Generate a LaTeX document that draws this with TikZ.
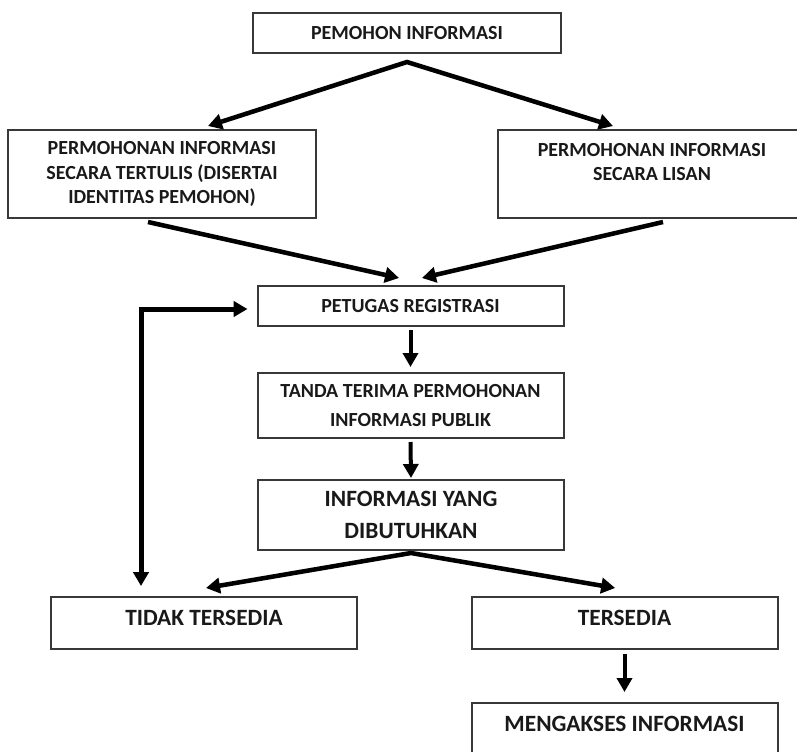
\documentclass[tikz,border=0pt]{standalone}
\usepackage{fontspec}
\setmainfont{Carlito}
\usepackage{tikz}
\usetikzlibrary{positioning,arrows.meta,calc}

\begin{document}
\begin{tikzpicture}[
  x=0.75pt, y=-0.75pt,
  font=\bfseries\fontsize{15}{18.2}\selectfont,
  box/.style={draw=black!78, line width=1.5pt, align=center, inner sep=0pt, outer sep=0pt, minimum width=229.5pt, text=black!90},
  bigtext/.style={font=\bfseries\fontsize{17.5}{24.5}\selectfont},
  flowtip/.tip={Triangle[length=10.5pt,width=11.5pt]},
  flow/.style={line width=3.4pt, line join=miter},
  down/.style={line width=3pt, -{Triangle[length=10.5pt,width=11.25pt]}}]
\useasboundingbox (0,0) rectangle (797,751);
% boxes
\node[box, minimum width=231pt, minimum height=30pt] (pemohon) at (407,33) {PEMOHON INFORMASI};
\node[box, minimum width=231pt, minimum height=66pt] (tertulis) at (162,174) {PERMOHONAN INFORMASI\\SECARA TERTULIS (DISERTAI\\IDENTITAS PEMOHON)};
\node[box, minimum width=231pt, minimum height=66pt] (lisan) at (652,174) {PERMOHONAN INFORMASI\\SECARA LISAN\\\mbox{}};
\node[box, minimum height=30pt] (petugas) at (410.5,306) {PETUGAS REGISTRASI};
\node[box, minimum height=48.75pt, font=\bfseries\fontsize{15}{21.2}\selectfont] (tanda) at (410.5,405.5) {TANDA TERIMA PERMOHONAN\\INFORMASI PUBLIK};
\node[box, bigtext, minimum height=52.5pt] (butuh) at (411,515) {INFORMASI YANG\\DIBUTUHKAN};
\node[box, bigtext, minimum height=39pt, text depth=7.5pt] (tidak) at (204,623) {TIDAK TERSEDIA};
\node[box, bigtext, minimum height=39pt, text depth=7.5pt] (tersedia) at (624.5,623) {TERSEDIA};
\node[box, bigtext, minimum height=39pt, text depth=7.5pt] (akses) at (624.5,729) {MENGAKSES INFORMASI};
% fork and merge points
\coordinate (fork top) at ([yshift=-6.75pt]pemohon.south);
\coordinate (fork low) at ([yshift=-2.25pt]butuh.south);
\coordinate (back) at (141,0);
% connectors
\draw[flow, flowtip-flowtip] ([xshift=34.5pt,yshift=3pt]tertulis.north) -- (fork top) -- ([xshift=-29.25pt,yshift=3pt]lisan.north);
\draw[flow, -flowtip] ([xshift=-10.5pt,yshift=-3pt]tertulis.south) -- ([xshift=-8.6pt,yshift=6pt]petugas.north);
\draw[flow, -flowtip] ([xshift=8.25pt,yshift=-3pt]lisan.south) -- ([xshift=8.6pt,yshift=6pt]petugas.north);
\draw[down] ([yshift=-3pt]petugas.south) -- ([yshift=4.5pt]tanda.north);
\draw[down] ([yshift=-3pt]tanda.south) -- ([yshift=1.5pt]butuh.north);
\draw[flow, flowtip-flowtip] ([xshift=1.5pt,yshift=6.75pt]tidak.north) -- (fork low) -- ([xshift=-7pt,yshift=6.75pt]tersedia.north);
\draw[down] ([yshift=-3.75pt]tersedia.south) -- ([yshift=8.25pt]akses.north);
\draw[flow, line width=3.75pt, flowtip-flowtip] ([yshift=8.25pt]tidak.north -| back) |- ([xshift=-7.5pt,yshift=-2.25pt]petugas.west);
\end{tikzpicture}
\end{document}
